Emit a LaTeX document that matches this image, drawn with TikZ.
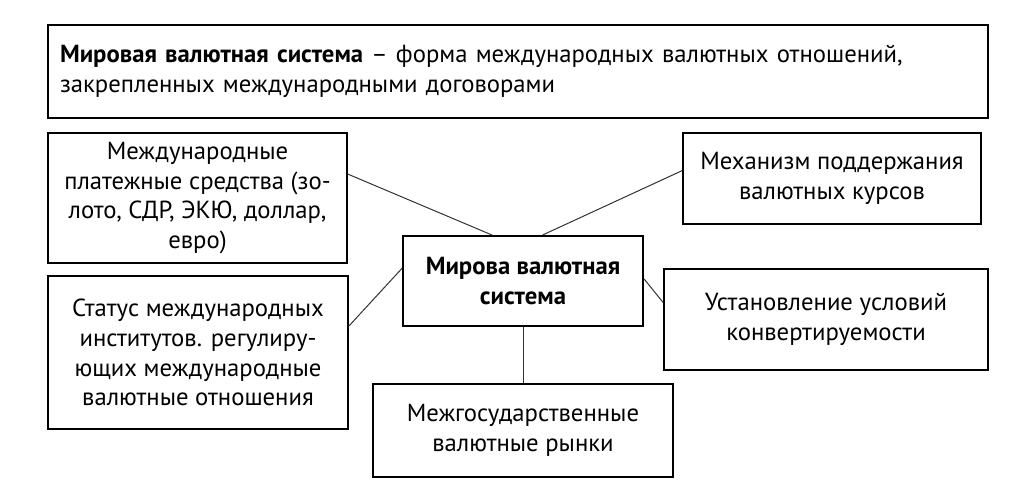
\documentclass[tikz,border=0pt]{standalone}
\usepackage{fontspec}
\setmainfont{PT Sans}
\usepackage{tikz}

\begin{document}
\begin{tikzpicture}[scale=0.35]
    \tikzstyle{every node}+=[inner sep=0pt, font=\fontsize{12.3}{14.8}\selectfont]
    \tikzset{box/.style 2 args={draw=black, line width=1pt, align=center, minimum width=#1*0.35cm, minimum height=#2*0.35cm}}
    \tikzstyle{link}=[draw=black!80, line width=0.5pt]
    \useasboundingbox (0,0) rectangle (51.2,-24.6);
    \node [box={47}{4.65}, align=left, text width=16.03cm] (def) at (25.9,-3.575)
        {\textbf{Мировая валютная система} – форма международных валютных отношений,\\закрепленных международными договорами};
    \node [box={12}{4.5}] (mvs) at (26.15,-14.05) {\textbf{Мирова валютная}\\\textbf{система}};
    \node [box={14.95}{6.5}] (means) at (9.875,-9.9)
        {Международные\\платежные средства (зо-\\лото, СДР, ЭКЮ, доллар,\\евро)};
    \node [box={14.9}{4.55}] (rates) at (41.6,-8.925) {Механизм поддержания\\валютных курсов};
    \node [box={15}{7.65}] (inst) at (9.9,-17.625)
        {Статус международных\\институтов. регулиру-\\ющих международные\\валютные отношения};
    \node [box={16.2}{5.05}] (conv) at (41.3,-15.975) {Установление условий\\конвертируемости};
    \node [box={15}{4.65}] (mkt) at (26.15,-21.525) {Межгосударственные\\валютные рынки};
    \draw [link] (means.9.5) -- (mvs.124.6);
    \draw [link] (rates.177.9) -- (mvs.67.1);
    \draw [link] (inst.10.4) -- (mvs.174.8);
    \draw [link] (mvs.1.9) -- (conv.174.2);
    \draw [link] (mvs.south) -- (mkt.north);
\end{tikzpicture}
\end{document}
